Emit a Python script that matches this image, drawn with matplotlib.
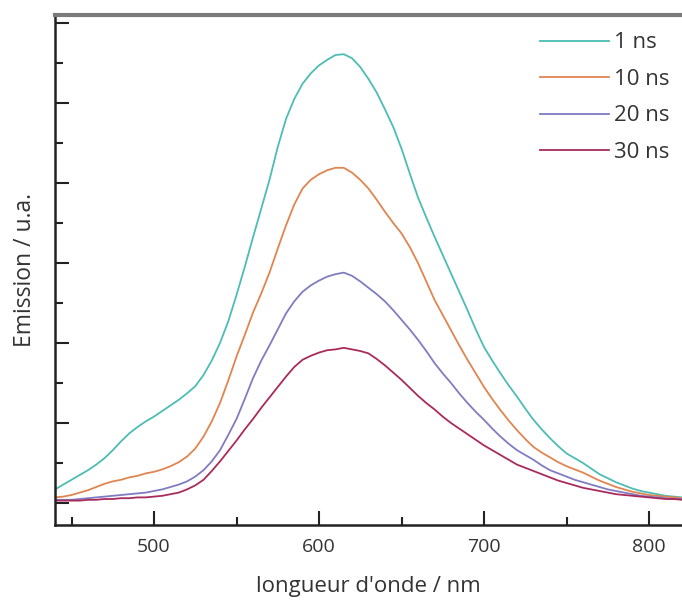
import matplotlib
matplotlib.use("Agg")
from matplotlib import pyplot as plt
from matplotlib.ticker import MultipleLocator, NullFormatter

plt.rcParams['font.family'] = ['Open Sans', 'DejaVu Sans']

# longueur d'onde, pas de 5 nm (440 -> 820)
wavelength = list(range(440, 825, 5))

em_1ns = [0.17, 0.23, 0.29, 0.35, 0.41, 0.48, 0.56, 0.66, 0.77, 0.87,
          0.95, 1.02, 1.08, 1.15, 1.22, 1.29, 1.37, 1.46, 1.60, 1.78,
          2.00, 2.27, 2.60, 2.95, 3.32, 3.68, 4.04, 4.45, 4.80, 5.05,
          5.24, 5.37, 5.47, 5.54, 5.60, 5.61, 5.56, 5.45, 5.30, 5.13,
          4.92, 4.70, 4.43, 4.12, 3.82, 3.57, 3.33, 3.10, 2.87, 2.64,
          2.41, 2.17, 1.95, 1.78, 1.62, 1.47, 1.33, 1.18, 1.04, 0.92,
          0.81, 0.71, 0.62, 0.56, 0.50, 0.43, 0.36, 0.31, 0.26, 0.22,
          0.18, 0.15, 0.13, 0.11, 0.09, 0.08, 0.07]

em_10ns = [0.07, 0.08, 0.10, 0.13, 0.16, 0.20, 0.24, 0.27, 0.29, 0.32,
           0.34, 0.37, 0.39, 0.42, 0.46, 0.51, 0.58, 0.68, 0.83, 1.02,
           1.25, 1.53, 1.83, 2.10, 2.38, 2.62, 2.88, 3.18, 3.47, 3.73,
           3.93, 4.04, 4.11, 4.16, 4.19, 4.19, 4.13, 4.04, 3.93, 3.79,
           3.64, 3.50, 3.37, 3.20, 3.00, 2.77, 2.54, 2.35, 2.16, 1.97,
           1.79, 1.62, 1.45, 1.30, 1.16, 1.03, 0.91, 0.80, 0.70, 0.63,
           0.57, 0.51, 0.46, 0.42, 0.38, 0.33, 0.28, 0.24, 0.20, 0.17,
           0.14, 0.12, 0.10, 0.09, 0.08, 0.07, 0.06]

em_20ns = [0.04, 0.04, 0.04, 0.05, 0.06, 0.07, 0.08, 0.09, 0.10, 0.11,
           0.12, 0.13, 0.15, 0.17, 0.20, 0.23, 0.27, 0.33, 0.41, 0.52,
           0.66, 0.85, 1.05, 1.30, 1.56, 1.78, 1.97, 2.17, 2.37, 2.52,
           2.64, 2.72, 2.78, 2.83, 2.86, 2.88, 2.84, 2.77, 2.69, 2.61,
           2.52, 2.41, 2.29, 2.17, 2.04, 1.90, 1.75, 1.62, 1.50, 1.37,
           1.25, 1.14, 1.04, 0.93, 0.83, 0.74, 0.66, 0.60, 0.54, 0.47,
           0.41, 0.37, 0.33, 0.29, 0.26, 0.23, 0.20, 0.17, 0.15, 0.13,
           0.11, 0.09, 0.08, 0.07, 0.06, 0.05, 0.05]

em_30ns = [0.03, 0.03, 0.03, 0.03, 0.04, 0.04, 0.05, 0.05, 0.06, 0.06,
           0.07, 0.07, 0.08, 0.09, 0.11, 0.13, 0.17, 0.22, 0.29, 0.40,
           0.52, 0.65, 0.78, 0.92, 1.05, 1.19, 1.32, 1.45, 1.58, 1.70,
           1.79, 1.84, 1.88, 1.91, 1.92, 1.94, 1.92, 1.90, 1.87, 1.80,
           1.72, 1.63, 1.54, 1.44, 1.34, 1.25, 1.17, 1.08, 1.00, 0.93,
           0.86, 0.79, 0.72, 0.66, 0.60, 0.54, 0.48, 0.44, 0.40, 0.36,
           0.32, 0.28, 0.25, 0.22, 0.19, 0.17, 0.15, 0.13, 0.11, 0.10,
           0.09, 0.08, 0.07, 0.06, 0.05, 0.05, 0.04]

labels = ['1 ns', '10 ns', '20 ns', '30 ns']
colors = ['#4dbcb5', '#e0854f', '#7f7cc2', '#a82b5c']

fig = plt.figure(figsize=(6.82, 6.01), dpi=100)
ax = fig.add_axes([55 / 682, 1 - 525 / 601, 1 - 55 / 682, 510 / 601])

for ys, lab, c in zip([em_1ns, em_10ns, em_20ns, em_30ns], labels, colors):
    ax.plot(wavelength, ys, color=c, lw=1.3, label=lab)

ax.set_xlim(440, 820)
ax.set_ylim(-0.275, 6.1)

ax.xaxis.set_major_locator(MultipleLocator(100))
ax.xaxis.set_minor_locator(MultipleLocator(50))
ax.yaxis.set_major_locator(MultipleLocator(1))
ax.yaxis.set_minor_locator(MultipleLocator(0.5))
ax.yaxis.set_major_formatter(NullFormatter())

ax.tick_params(which='major', direction='in', length=10, width=1.5, color='#222222',
               labelsize=14, labelcolor='#333333', pad=9)
ax.tick_params(which='minor', direction='in', length=6, width=1.5, color='#222222')
ax.tick_params(top=False, right=False)

ax.spines['right'].set_visible(False)
ax.spines['left'].set_linewidth(1.8)
ax.spines['left'].set_color('#222222')
ax.spines['bottom'].set_linewidth(1.8)
ax.spines['bottom'].set_color('#222222')
ax.spines['top'].set_linewidth(3)
ax.spines['top'].set_color('#7a7a7a')

ax.set_xlabel("longueur d'onde / nm", fontsize=16, color='#333333', labelpad=15)
ax.set_ylabel("Emission / u.a.", fontsize=16.5, color='#333333', labelpad=4)

ax.legend(loc='upper left', bbox_to_anchor=(0.773, 0.966), frameon=False,
          fontsize=16, handlelength=3.1, handletextpad=0.25, labelspacing=0.7,
          borderpad=0, borderaxespad=0, labelcolor='#333333')

fig.savefig('out.png', dpi=100)
